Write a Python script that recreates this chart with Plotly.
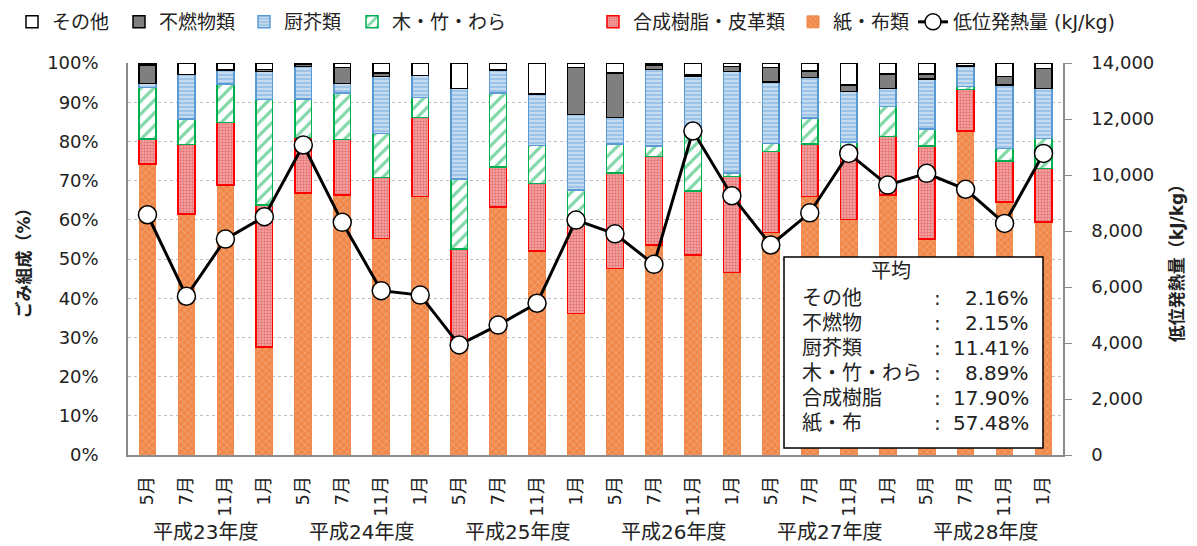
import plotly.graph_objects as go

months = ["5月", "7月", "11月", "1月"] * 6
years = ["平成23年度", "平成24年度", "平成25年度", "平成26年度", "平成27年度", "平成28年度"]

paper = [74.2, 61.5, 68.9, 27.6, 66.9, 66.3, 55.2, 65.9, 27.2, 63.3, 52.0, 36.1,
         47.6, 53.6, 51.0, 46.6, 56.7, 65.9, 60.1, 66.3, 55.1, 82.7, 64.6, 59.5]
plastic = [6.4, 17.7, 15.9, 36.2, 14.1, 14.2, 15.6, 20.2, 25.4, 10.2, 17.3, 22.6,
           24.4, 22.5, 16.3, 24.4, 20.7, 13.4, 18.4, 14.9, 23.7, 10.6, 10.4, 13.6]
wood = [13.1, 6.5, 9.8, 26.9, 9.8, 11.8, 11.2, 5.1, 17.8, 18.8, 9.6, 8.9,
        7.3, 2.7, 14.3, 0.9, 2.1, 6.7, 1.4, 7.7, 4.4, 0.7, 3.2, 7.7]
kitchen = [1.1, 11.4, 3.6, 7.1, 8.3, 2.5, 14.5, 5.6, 23.1, 5.9, 13.2, 19.3,
           6.8, 19.6, 15.1, 25.9, 15.6, 10.3, 12.8, 4.6, 12.7, 5.1, 16.2, 12.7]
incomb = [4.7, 0.0, 0.0, 0.5, 0.7, 4.1, 1.0, 0.0, 0.0, 0.0, 0.0, 12.0,
          11.3, 1.1, 0.4, 1.3, 3.7, 1.7, 1.7, 3.7, 1.3, 0.3, 2.1, 5.1]
other = [0.5, 2.9, 1.8, 1.7, 0.2, 1.1, 2.5, 3.2, 6.5, 1.8, 7.9, 1.1,
         2.6, 0.5, 2.9, 0.9, 1.2, 2.0, 5.6, 2.8, 2.8, 0.6, 3.5, 1.4]
heat = [8580, 5670, 7710, 8510, 11070, 8310, 5870, 5710, 3930, 4640, 5420, 8390,
        7900, 6810, 11570, 9260, 7500, 8650, 10770, 9640, 10060, 9490, 8270, 10770]

avg_labels = ["その他", "不燃物", "厨芥類", "木・竹・わら", "合成樹脂", "紙・布"]
avg_values = ["2.16%", "2.15%", "11.41%", "8.89%", "17.90%", "57.48%"]

x = list(range(len(months)))
FONT = "DejaVu Sans, Noto Sans CJK JP, sans-serif"

# plot area geometry (pixels) used for placing legend / annotation boxes
PL, PR, PT, PB = 128, 1063, 63, 455
PW, PH = PR - PL, PB - PT


def px_x(p):
    return (p - PL) / PW


def px_y(p):
    return (PB - p) / PH


fig = go.Figure()

series = [
    ("紙・布類", paper, dict(color="#F0884A", line=dict(color="#F0884A", width=1),
                          pattern=dict(shape="x", fgcolor="#FBD3B8", bgcolor="#F0884A", size=5, solidity=0.25)), "legend6"),
    ("合成樹脂・皮革類", plastic, dict(color="#E88C8C", line=dict(color="#FF0000", width=1.5),
                              pattern=dict(shape=".", fgcolor="#E03C3C", bgcolor="#F2ABAB", size=3, solidity=0.5)), "legend5"),
    ("木・竹・わら", wood, dict(color="white", line=dict(color="#00B050", width=1.5),
                           pattern=dict(shape="/", fgcolor="#00B050", bgcolor="white", size=9, solidity=0.35)), "legend4"),
    ("厨芥類", kitchen, dict(color="#9DC3E6", line=dict(color="#5B9BD5", width=1.5),
                           pattern=dict(shape="-", fgcolor="white", bgcolor="#9DC3E6", size=4, solidity=0.4)), "legend3"),
    ("不燃物類", incomb, dict(color="#7F7F7F", line=dict(color="black", width=1.5)), "legend2"),
    ("その他", other, dict(color="white", line=dict(color="black", width=1.5)), "legend"),
]

for name, vals, marker, lg in series:
    fig.add_trace(go.Bar(x=x, y=vals, name=name, marker=marker, width=0.43,
                         legend=lg, yaxis="y"))

fig.add_trace(go.Scatter(x=x, y=heat, name="低位発熱量 (kJ/kg)", mode="lines+markers",
                         line=dict(color="black", width=3),
                         marker=dict(size=18, color="white", line=dict(color="black", width=1.5)),
                         yaxis="y2", legend="legend7"))

# legend text start positions (px) in the reference
legend_text_px = {"legend": 55, "legend2": 162, "legend3": 287, "legend4": 395,
                  "legend5": 636, "legend6": 836, "legend7": 956}
legend_layout = {}
for lg, tx in legend_text_px.items():
    legend_layout[lg] = dict(orientation="h", x=px_x(tx - 43), y=px_y(22), xanchor="left",
                             yanchor="middle", font=dict(size=19, family=FONT),
                             bgcolor="rgba(0,0,0,0)", itemwidth=30)

fig.update_layout(
    barmode="stack",
    width=1197, height=546,
    margin=dict(l=PL, r=1197 - PR, t=PT, b=546 - PB, autoexpand=False),
    plot_bgcolor="white", paper_bgcolor="white",
    font=dict(family=FONT, size=18, color="#222222"),
    showlegend=True,
    **legend_layout,
    xaxis=dict(tickmode="array", tickvals=x, ticktext=months, tickangle=-90,
               range=[-0.5, len(x) - 0.5], showgrid=False, showline=True,
               linecolor="#8C8C8C", linewidth=1.5, ticks="", tickfont=dict(size=18, family=FONT),
               ticklabelstandoff=12, automargin=False),
    yaxis=dict(range=[0, 100], tickvals=list(range(0, 101, 10)),
               ticktext=[f"{v}%" for v in range(0, 101, 10)],
               showgrid=True, gridcolor="#BFBFBF", griddash="dot", gridwidth=1,
               showline=True, linecolor="#8C8C8C", linewidth=1.5, ticks="",
               ticklabelstandoff=24, tickfont=dict(size=18), automargin=False,
               title=dict(text="<b>ごみ組成（%）</b>", font=dict(size=17), standoff=12),
               zeroline=False),
    yaxis2=dict(range=[0, 14000], tickvals=list(range(0, 14001, 2000)),
                tickformat=",d", overlaying="y", side="right", showgrid=False,
                showline=True, linecolor="#8C8C8C", linewidth=1.5,
                ticks="outside", ticklen=7, tickcolor="#8C8C8C", automargin=False,
                ticklabelstandoff=16, tickfont=dict(size=18),
                title=dict(text="<b>低位発熱量（kJ/kg）</b>", font=dict(size=17), standoff=18),
                zeroline=False),
)

# fiscal-year group labels
for i, yname in enumerate(years):
    fig.add_annotation(x=i * 4 + 1.5, xref="x", y=px_y(532), yref="paper", text=yname,
                       showarrow=False, font=dict(size=20, family=FONT), yanchor="middle")

# average box
fig.add_shape(type="rect", xref="paper", yref="paper", x0=px_x(784), x1=px_x(1043),
              y0=px_y(448), y1=px_y(257),
              line=dict(color="black", width=1.5), fillcolor="white", layer="above")
fig.add_annotation(x=px_x(913), xref="paper", y=px_y(271), yref="paper", text="平均",
                   showarrow=False, font=dict(size=20, family=FONT), yanchor="middle")
row_px = [298, 323, 348, 373, 398, 423]
for lab, val, ry in zip(avg_labels, avg_values, row_px):
    fig.add_annotation(x=px_x(800), xref="paper", y=px_y(ry), yref="paper", xanchor="left",
                       yanchor="middle", text=lab, showarrow=False, font=dict(size=20, family=FONT))
    fig.add_annotation(x=px_x(937), xref="paper", y=px_y(ry), yref="paper", xanchor="center",
                       yanchor="middle", text=":", showarrow=False, font=dict(size=20, family=FONT))
    fig.add_annotation(x=px_x(1031), xref="paper", y=px_y(ry), yref="paper", xanchor="right",
                       yanchor="middle", text=val, showarrow=False, font=dict(size=20, family=FONT))

fig.write_html("out.html", config={"displayModeBar": False},
               post_script="document.body.style.margin='0';document.body.style.overflow='hidden';")
